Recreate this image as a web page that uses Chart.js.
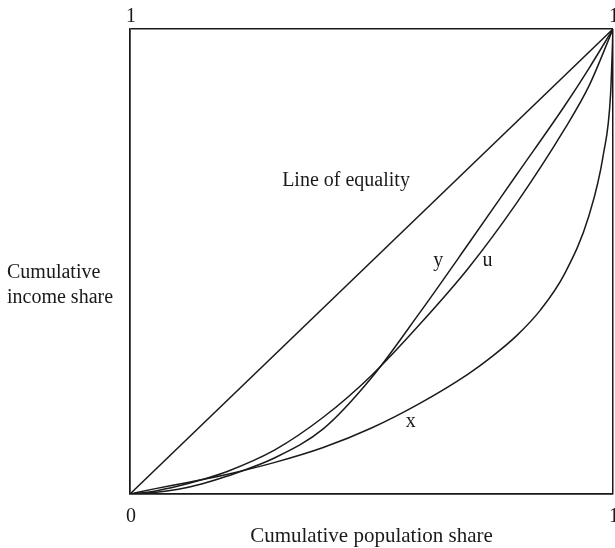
<!DOCTYPE html>
<html><head><meta charset="utf-8">
<script src="https://cdn.jsdelivr.net/npm/chart.js@4"></script>
<style>html,body{margin:0;padding:0;background:#fff}#wrap{width:615px;height:548px}</style>
</head><body><div id="wrap"><canvas id="c" width="615" height="548"></canvas></div>
<script>
// Lorenz curves: cumulative population share (p) vs cumulative income share (L)
const popX = [0,0.05,0.1,0.15,0.2,0.3,0.4,0.5,0.6,0.7,0.75,0.8,0.85,0.9,0.95,0.98,0.995,1];
const curveX = [0,0.011,0.021,0.031,0.042,0.068,0.1,0.142,0.195,0.258,0.296,0.34,0.396,0.474,0.598,0.73,0.86,1];
const popU = [0,0.05,0.1,0.15,0.2,0.3,0.4,0.5,0.6,0.7,0.8,0.9,0.95,1];
const curveU = [0,0.006,0.017,0.031,0.048,0.095,0.165,0.255,0.365,0.485,0.625,0.785,0.877,1];
const popY = [0,0.05,0.1,0.15,0.2,0.3,0.4,0.5,0.6,0.7,0.8,0.9,0.95,1];
const curveY = [0,0.003,0.01,0.022,0.038,0.078,0.14,0.25,0.39,0.537,0.686,0.835,0.915,1];
const equalityP = [0,1];
const equalityL = [0,1];
const bottomTicks = ['0','1'];
const topTicks = ['1','1'];
const curveLabels = [
  {text:'Line of equality', p:0.315, L:0.662},
  {text:'y', p:0.628, L:0.49},
  {text:'u', p:0.73, L:0.49},
  {text:'x', p:0.571, L:0.144}
];
const yTitle = ['Cumulative','income share'];
const xTitle = 'Cumulative population share';

const FONT = '"Liberation Serif","DejaVu Serif",serif';
const INK = '#1a1a1a';
const toPts = (ps, ls)=>ls.map((v,i)=>({x:ps[i], y:v}));
const lineDs = (data)=>({data, showLine:true, borderColor:INK, borderWidth:1.5, pointRadius:0, cubicInterpolationMode:'monotone', fill:false});

const textPlugin = {
  id:'texts',
  afterDraw(chart){
    const ctx = chart.ctx, xs = chart.scales.x, ys = chart.scales.y;
    ctx.save();
    ctx.fillStyle = INK;
    ctx.font = '20px ' + FONT;
    ctx.textBaseline = 'alphabetic';
    ctx.textAlign = 'left';
    curveLabels.forEach(l=>{
      ctx.fillText(l.text, xs.getPixelForValue(l.p), ys.getPixelForValue(l.L));
    });
    ctx.fillText(yTitle[0], 7, 278);
    ctx.fillText(yTitle[1], 7, 303);
    ctx.textAlign = 'center';
    topTicks.forEach((t,i)=>ctx.fillText(t, xs.getPixelForValue(i)+1, ys.top-7));
    bottomTicks.forEach((t,i)=>ctx.fillText(t, xs.getPixelForValue(i)+1, ys.bottom+28));
    ctx.font = '21px ' + FONT;
    ctx.fillText(xTitle, (xs.left+xs.right)/2, 542);
    ctx.restore();
  }
};

new Chart(document.getElementById('c'), {
  type:'scatter',
  data:{datasets:[
    lineDs(toPts(equalityP, equalityL)),
    lineDs(toPts(popX, curveX)),
    lineDs(toPts(popU, curveU)),
    lineDs(toPts(popY, curveY))
  ]},
  options:{
    responsive:false, animation:false, devicePixelRatio:1,
    layout:{padding:{left:130, right:2, top:29, bottom:54}},
    plugins:{legend:{display:false}, tooltip:{enabled:false}},
    scales:{
      x:{type:'linear', min:0, max:1, position:'bottom',
        ticks:{display:false, stepSize:1},
        grid:{color:INK, lineWidth:1.5, drawTicks:false},
        border:{display:true, color:INK, width:1.5}
      },
      y:{type:'linear', min:0, max:1, position:'left',
        ticks:{display:false, stepSize:1},
        grid:{color:INK, lineWidth:1.5, drawTicks:false},
        border:{display:true, color:INK, width:1.5}
      }
    }
  },
  plugins:[textPlugin]
});
</script></body></html>
